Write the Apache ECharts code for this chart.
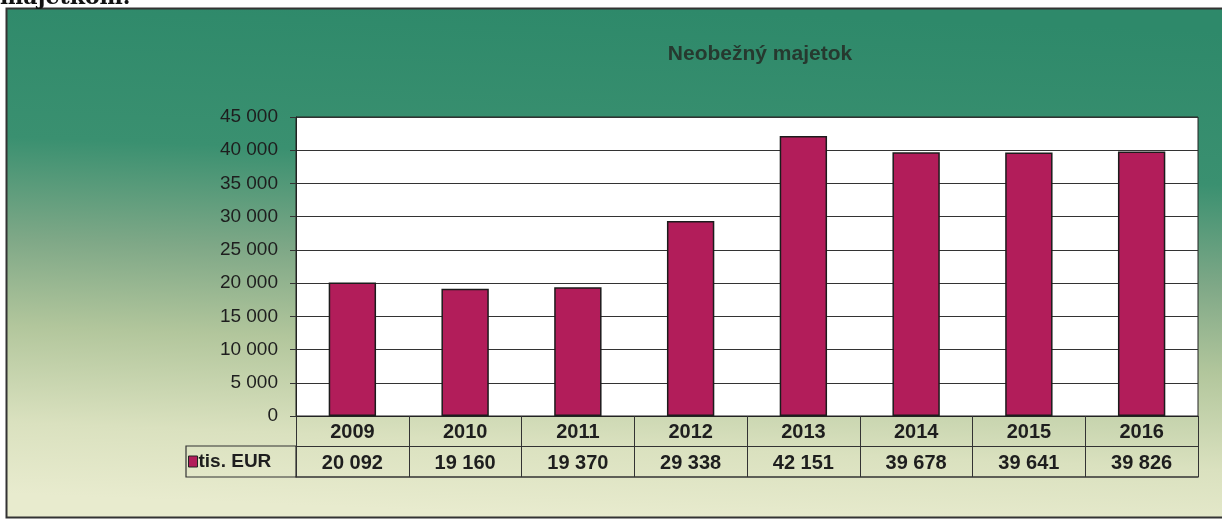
<!DOCTYPE html>
<html>
<head>
<meta charset="utf-8">
<title>Neobežný majetok</title>
<script src="https://cdn.jsdelivr.net/npm/echarts@6/dist/echarts.min.js"></script>
<style>
  html, body { margin: 0; padding: 0; background: #fff; }
  #chart { width: 1222px; height: 520px; }
</style>
</head>
<body>
<div id="chart"></div>
<script>
// data
const years = ['2009', '2010', '2011', '2012', '2013', '2014', '2015', '2016']
const values = [20092, 19160, 19370, 29338, 42151, 39678, 39641, 39826]
const seriesName = 'tis. EUR'
const yMin = 0
const yMax = 45000
const yStep = 5000

// 20092 -> "20 092"
function fmt(v) {
  return String(v).replace(/\B(?=(\d{3})+(?!\d))/g, ' ')
}

const font = '"Liberation Sans", Arial, sans-serif'
const ink = '#1e1e1e'

// plot box (px)
const G = { left: 296, top: 117, width: 902, height: 299 }
const rowH = 30

const chart = echarts.init(document.getElementById('chart'), null, { renderer: 'canvas' })

chart.setOption({
  backgroundColor: '#fff',
  animation: false,
  textStyle: { fontFamily: font },
  title: {
    text: 'Neobežný majetok',
    left: 755,
    top: 39,
    textAlign: 'center',
    textStyle: { fontSize: 21, fontWeight: 'bold', color: '#26392f', fontFamily: font }
  },
  legend: {
    data: [seriesName],
    left: G.left - 108,
    top: G.top + G.height + rowH + 6,
    icon: 'rect',
    itemWidth: 9,
    itemHeight: 11,
    itemGap: 0,
    padding: 0,
    itemStyle: { borderColor: '#222', borderWidth: 1 },
    textStyle: { fontSize: 19, fontWeight: 'bold', color: ink, padding: [0, 0, 0, -4] }
  },
  grid: {
    left: G.left,
    top: G.top,
    width: G.width,
    height: G.height,
    show: true,
    backgroundColor: '#fff',
    borderColor: '#222',
    borderWidth: 1
  },
  xAxis: [
    {
      type: 'category',
      data: years,
      position: 'bottom',
      axisLine: { show: true, lineStyle: { color: '#222', width: 1 } },
      axisTick: { show: true, length: rowH, interval: 0, lineStyle: { color: '#333', width: 1 } },
      axisLabel: { fontSize: 20, fontWeight: 'bold', color: ink, margin: 6, interval: 0 },
      splitLine: { show: false }
    },
    {
      type: 'category',
      data: values.map(fmt),
      position: 'bottom',
      offset: rowH,
      axisLine: { show: true, lineStyle: { color: '#333', width: 1 } },
      axisTick: { show: true, length: rowH + 1, interval: 0, lineStyle: { color: '#333', width: 1 } },
      axisLabel: { fontSize: 20, fontWeight: 'bold', color: ink, margin: 7, interval: 0 },
      splitLine: { show: false }
    },
    {
      type: 'category',
      data: years,
      position: 'bottom',
      offset: rowH * 2 + 1,
      axisLine: { show: true, lineStyle: { color: '#333', width: 1.5 } },
      axisTick: { show: false },
      axisLabel: { show: false },
      splitLine: { show: false }
    }
  ],
  yAxis: {
    type: 'value',
    min: yMin,
    max: yMax,
    interval: yStep,
    axisLine: { show: true, lineStyle: { color: '#222', width: 1 } },
    axisTick: { show: true, length: 6, lineStyle: { color: '#333' } },
    axisLabel: { fontSize: 19, color: ink, margin: 18, formatter: fmt },
    splitLine: { show: true, lineStyle: { color: '#333', width: 1 } }
  },
  series: [
    {
      name: seriesName,
      type: 'bar',
      data: values,
      xAxisIndex: 0,
      barWidth: '42%',
      itemStyle: { color: '#B21D5A', borderColor: '#1c1c1c', borderWidth: 1.5 }
    }
  ],
  graphic: [
    // chart area with the green-to-cream fill
    {
      type: 'rect',
      z: -10,
      shape: { x: 6.5, y: 8.5, width: 1240, height: 509 },
      style: {
        fill: new echarts.graphic.LinearGradient(620, 8, 600, 517, [
          { offset: 0, color: '#2E896A' },
          { offset: 0.3, color: '#3A9070' },
          { offset: 0.5, color: '#7FA887' },
          { offset: 0.67, color: '#B2C69C' },
          { offset: 0.86, color: '#DAE1BF' },
          { offset: 1, color: '#E8EBCE' }
        ], true),
        stroke: '#333',
        lineWidth: 2
      }
    },
    // legend cell of the data table
    {
      type: 'rect',
      z: 10,
      shape: { x: G.left - 110, y: G.top + G.height + rowH, width: 110, height: rowH + 1 },
      style: { fill: 'none', stroke: '#333', lineWidth: 1.2 }
    },
    // tail of the text above the chart
    {
      type: 'text',
      z: 10,
      left: 0,
      top: -13,
      style: {
        text: 'majetkom.',
        font: 'bold 22px "DejaVu Serif", serif',
        fill: '#111'
      }
    }
  ]
})
</script>
</body>
</html>
